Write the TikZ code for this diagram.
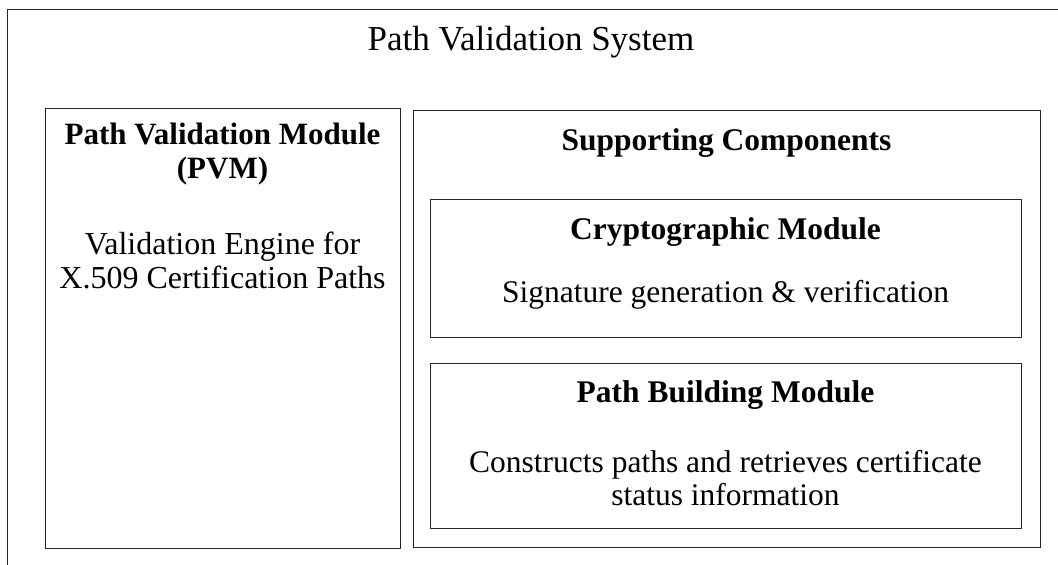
\documentclass[tikz,border=0pt]{standalone}
\usepackage{fontspec}
\setmainfont{Liberation Serif}
\begin{document}
\begin{tikzpicture}[x=1pt,y=-1pt,
  boxline/.style={draw=black!85,line width=1.3pt},
  framebox/.style={boxline,rectangle,inner sep=0pt},
  titletext/.style={anchor=base,inner sep=0pt,font=\fontsize{35}{40}\selectfont},
  lhead/.style={anchor=base,inner sep=0pt,font=\fontsize{31}{34}\selectfont\bfseries},
  ltext/.style={anchor=base,inner sep=0pt,font=\fontsize{32}{35}\selectfont},
  rhead/.style={anchor=base,inner sep=0pt,font=\fontsize{31.5}{34}\selectfont\bfseries},
  rtext/.style={anchor=base,inner sep=0pt,font=\fontsize{31.5}{34}\selectfont}]
\useasboundingbox (0,0) rectangle (1058,565);
\clip (0,0) rectangle (1058,565);
% outer system frame (extends beyond the picture on right and bottom)
\node[framebox,minimum width=1070pt,minimum height=590pt,anchor=north west] (sys) at (7,9) {};
\node[titletext] (systitle) at (531,50) {Path Validation System};
% PVM
\node[framebox,minimum width=355pt,minimum height=440pt,anchor=north west] (pvm) at (45,108) {};
\node[lhead] (pvm1) at (222.5,144) {Path Validation Module};
\node[lhead] (pvm2) at (222.5,178) {(PVM)};
\node[ltext] (pvm3) at (222.5,254) {Validation Engine for};
\node[ltext] (pvm4) at (222.5,288.5) {X.509 Certification Paths};
% Supporting components
\node[framebox,minimum width=627pt,minimum height=437pt,anchor=north west] (sup) at (413,110) {};
\node[rhead] (suptitle) at (726.5,150.5) {Supporting Components};
% Cryptographic module
\node[framebox,minimum width=591pt,minimum height=138pt,anchor=north west] (crypto) at (430,199) {};
\node[rhead] (crypto1) at (725.5,239.5) {Cryptographic Module};
\node[rtext] (crypto2) at (725.5,302.5) {Signature generation \& verification};
% Path building module
\node[framebox,minimum width=591pt,minimum height=165pt,anchor=north west] (pbm) at (430,363) {};
\node[rhead] (pbm1) at (725.5,402.5) {Path Building Module};
\node[rtext] (pbm2) at (725.5,472.5) {Constructs paths and retrieves certificate};
\node[rtext] (pbm3) at (725.5,505.5) {status information};
\end{tikzpicture}
\end{document}
